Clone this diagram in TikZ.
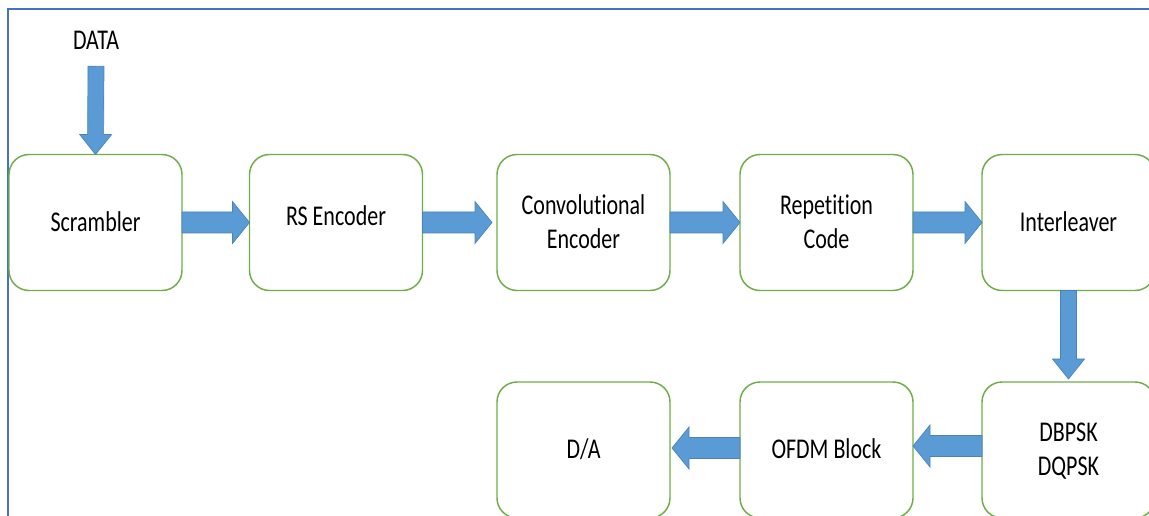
\documentclass[tikz,border=0pt]{standalone}
\usepackage{fontspec}
\setmainfont{Carlito}[Ligatures={NoCommon}]
\usetikzlibrary{calc}

\definecolor{boxgreen}{HTML}{70AD47}
\definecolor{arrowblue}{HTML}{5B9BD5}
\definecolor{arrowedge}{HTML}{4A83BB}
\definecolor{framebl}{HTML}{4472C4}

% slightly tall label text, one or more centred lines
\newcommand\lbl[1]{\raisebox{-1.5pt}[\height][\depth]{%
  \scalebox{1}[1.3]{\begin{tabular}{@{}c@{}}#1\end{tabular}}}}

% block arrow: tail, tip, half shaft width, half head width, head length
\newcommand\blockarrow[5]{%
  \coordinate (ba-h) at ($(#2)!#5!(#1)$);
  \filldraw[blockarrow]
    ($(#1)!#3!90:(#2)$) -- ($(ba-h)!#3!90:(#2)$) -- ($(ba-h)!#4!90:(#2)$)
    -- (#2)
    -- ($(ba-h)!#4!-90:(#2)$) -- ($(ba-h)!#3!-90:(#2)$) -- ($(#1)!#3!-90:(#2)$)
    -- cycle;}

\tikzset{
  stage/.style={draw=boxgreen, line width=1.1pt, rounded corners=15pt,
    minimum width=129.75pt, minimum height=102pt, outer sep=0pt,
    inner sep=0pt, font=\fontsize{16.5}{19.6}\selectfont, text=black},
  plainlabel/.style={font=\fontsize{16.5}{19.6}\selectfont, inner sep=0pt},
  blockarrow/.style={fill=arrowblue, draw=arrowedge, line width=0.5pt, line join=miter},
  frameline/.style={draw=framebl, line width=1.2pt}
}

\begin{document}
\begin{tikzpicture}[x=0.75pt, y=-0.75pt]
  \useasboundingbox (0,0) rectangle (1149,516);
  \clip (0,0) rectangle (1149,516);
  \fill[white] (0,0) rectangle (1149,516);

  % outer frame, open to the right and bottom
  \draw[frameline] (8,516) -- (8,9) -- (1149,9);

  % input label
  \node[plainlabel] (data) at (96,41) {\lbl{DATA}};

  % first row of stages
  \node[stage] (scr)  at (95.5,222.5)  {\lbl{Scrambler}};
  \node[stage] (rs)   at (336,222.5)   {\raisebox{4.5pt}[\height][\depth]{\lbl{RS Encoder}}};
  \node[stage] (conv) at (583.5,222.5) {\lbl{Convolutional\\Encoder}};
  \node[stage] (rep)  at (826.5,222.5) {\lbl{Repetition\\Code}};
  \node[stage] (intl) at (1068.5,222.5){\lbl{Interleaver}};

  % second row of stages
  \node[stage] (mod)  at (1068.5,450)  {\lbl{DBPSK\\DQPSK}};
  \node[stage] (ofdm) at (826.5,450)   {\lbl{OFDM Block}};
  \node[stage] (da)   at (583.5,450)   {\lbl{D/A}};

  % arrow end points
  \coordinate (datatail) at ($(data.south)+(0,8)$);
  \coordinate (convin)   at ($(conv.west)+(-5,0)$);
  \coordinate (modin)    at ($(mod.north)+(0,-3)$);
  \coordinate (modout)   at ($(mod.west)+(0,-4)$);
  \coordinate (ofdmin)   at ($(ofdm.east)+(0,-4)$);
  \coordinate (ofdmout)  at ($(ofdm.west)+(0,-2)$);
  \coordinate (dain)     at ($(da.east)+(2,-2)$);

  % signal flow
  \blockarrow{datatail}{scr.north}{6pt}{12pt}{15pt}
  \blockarrow{scr.east}{rs.west}{7.875pt}{15.75pt}{12.75pt}
  \blockarrow{rs.east}{convin}{7.875pt}{15.75pt}{12.75pt}
  \blockarrow{conv.east}{rep.west}{7.875pt}{15.75pt}{12.75pt}
  \blockarrow{rep.east}{intl.west}{7.875pt}{15.75pt}{12.75pt}
  \blockarrow{intl.south}{modin}{6pt}{12pt}{15pt}
  \blockarrow{modout}{ofdmin}{7.875pt}{15.75pt}{12.75pt}
  \blockarrow{ofdmout}{dain}{7.875pt}{15.75pt}{12.75pt}
\end{tikzpicture}
\end{document}
